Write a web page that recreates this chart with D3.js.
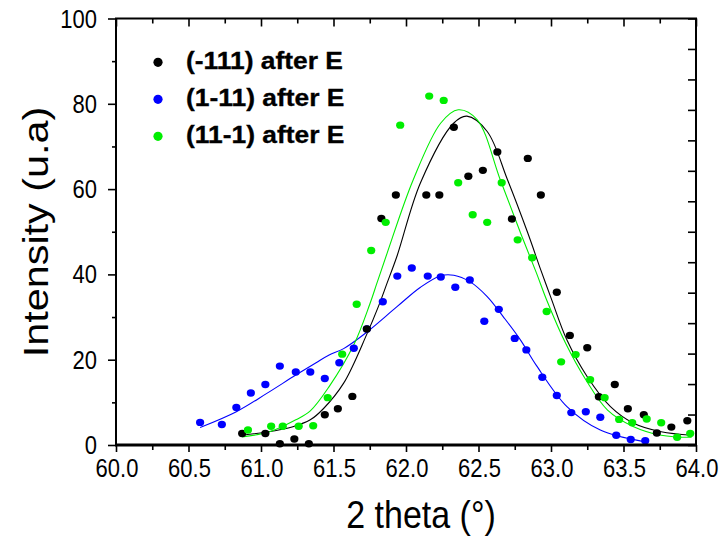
<!DOCTYPE html>
<html><head><meta charset="utf-8">
<script src="https://cdn.jsdelivr.net/npm/d3@7"></script>
<style>body{margin:0;background:#fff}svg{display:block}</style>
</head><body>
<svg id="c" width="726" height="536"></svg>
<script>
// ---- data ----
const seriesNames = ["(-111) after E", "(1-11) after E", "(11-1) after E"];
const seriesColors = ["#000000", "#0000ff", "#00ee00"];

const blackX = [60.87,61.03,61.13,61.23,61.33,61.44,61.53,61.63,61.73,61.83,61.93,62.14,62.23,62.33,62.43,62.53,62.63,62.73,62.84,62.93,63.04,63.13,63.25,63.33,63.44,63.53,63.64,63.73,63.83,63.94];
const blackY = [2.7,2.7,0.3,1.4,0.3,7.1,8.5,11.4,27.2,53.1,58.6,58.6,58.6,74.5,63.0,64.4,68.7,53.0,67.2,58.6,35.8,25.7,22.8,11.3,14.2,8.5,7.1,2.8,4.2,5.7];

const blueX = [60.58,60.73,60.83,60.93,61.03,61.13,61.24,61.34,61.44,61.54,61.64,61.73,61.84,61.94,62.04,62.15,62.24,62.34,62.44,62.54,62.64,62.75,62.83,62.94,63.04,63.14,63.24,63.34,63.45,63.55,63.65];
const blueY = [5.3,4.8,8.8,12.2,14.2,18.5,17.1,17.1,15.6,19.3,22.7,27.2,33.6,39.6,41.5,39.6,39.4,37.0,38.7,29.0,31.8,25.0,22.3,15.9,11.6,7.6,7.8,6.5,2.3,1.3,1.0];

const greenX = [60.91,61.07,61.15,61.26,61.36,61.46,61.56,61.66,61.76,61.86,61.96,62.16,62.26,62.36,62.46,62.56,62.66,62.77,62.87,62.97,63.07,63.17,63.27,63.37,63.47,63.56,63.66,63.76,63.87,63.96];
const greenY = [3.5,4.4,4.4,4.4,4.5,11.1,21.3,33.0,45.6,52.2,75.0,81.8,80.8,61.5,54.0,52.2,61.5,48.1,43.9,31.3,19.5,21.2,15.3,11.1,6.0,5.2,6.1,5.2,1.8,2.7];

// fitted curves
const blackFitX = [60.87,61.03,61.22,61.34,61.43,61.57,61.73,61.81,61.87,61.94,62.10,62.33,62.42,62.56,62.70,62.84,62.93,63.00,63.11,63.25,63.41,63.57,63.76,63.97];
const blackFitY = [2.3,3.0,4.3,5.9,8.5,14.5,26.0,32.5,38.0,44.5,61.5,75.5,77.1,73.5,62.2,49.7,41.0,34.5,24.6,16.0,9.0,5.1,3.1,2.3];
const blueFitX = [60.58,60.83,61.04,61.24,61.38,61.47,61.57,61.72,61.94,62.10,62.24,62.33,62.44,62.56,62.67,62.79,62.90,63.11,63.34,63.64];
const blueFitY = [4.1,7.8,12.1,16.4,19.3,21.1,22.6,26.2,32.5,37.0,39.7,39.8,38.3,34.8,30.1,24.6,18.6,9.0,3.5,0.8];
const greenFitX = [60.87,61.06,61.24,61.34,61.47,61.64,61.75,61.80,61.87,62.05,62.24,62.36,62.49,62.65,62.79,62.90,62.97,63.10,63.24,63.39,63.57,63.76,63.97];
const greenFitY = [1.9,3.1,5.9,8.0,13.7,23.5,33.0,38.0,45.0,62.2,75.5,78.6,76.3,62.2,49.7,40.3,34.0,23.9,15.3,8.2,4.3,2.3,1.8];

const xMajorTicks = [60.0,60.5,61.0,61.5,62.0,62.5,63.0,63.5,64.0];
const xMinorTicks = [60.25,60.75,61.25,61.75,62.25,62.75,63.25,63.75];
const yMajorTicks = [0,20,40,60,80,100];
const yMinorTicks = [10,30,50,70,90];
const rightTickCount = 14;

const xTitle = "2 theta (°)";
const yTitle = "Intensity (u.a)";

// ---- layout ----
const L = 116, R = 696, T = 18.5, B = 445;
const VS = 1.15; // vertical text stretch
const FONT = "'Liberation Sans', Arial, Helvetica, sans-serif";

const svg = d3.select("#c");
const x = d3.scaleLinear().domain([60,64]).range([L,R]);
const y = d3.scaleLinear().domain([0,100]).range([B,T]);
const yR = d3.scaleLinear().domain([0,rightTickCount]).range([B,T]);

const series = [
  {X: blueX, Y: blueY, fx: blueFitX, fy: blueFitY, c: seriesColors[1]},
  {X: blackX, Y: blackY, fx: blackFitX, fy: blackFitY, c: seriesColors[0]},
  {X: greenX, Y: greenY, fx: greenFitX, fy: greenFitY, c: seriesColors[2]},
];

const line = d3.line().x(d => x(d[0])).y(d => y(d[1])).curve(d3.curveCatmullRom.alpha(0.5));

series.forEach(s => {
  svg.append("path")
    .attr("d", line(s.fx.map((v,i) => [v, s.fy[i]])))
    .attr("fill","none").attr("stroke", s.c).attr("stroke-width", 1.1);
});
series.forEach(s => {
  svg.append("g").selectAll("ellipse").data(s.X.map((v,i)=>[v,s.Y[i]])).join("ellipse")
    .attr("cx", d => x(d[0])).attr("cy", d => y(d[1]))
    .attr("rx", 4.1).attr("ry", 3.7).attr("fill", s.c);
});

// ---- axes ----
function styleAxis(g, w){
  g.select(".domain").remove();
  g.selectAll(".tick line").attr("stroke","#000").attr("stroke-width", w||1.6);
}
svg.append("g").attr("transform",`translate(0,${B})`)
  .call(d3.axisBottom(x).tickValues(xMinorTicks).tickSize(5).tickFormat(""))
  .call(styleAxis);
svg.append("g").attr("transform",`translate(0,${T})`)
  .call(d3.axisBottom(x).tickValues(xMinorTicks).tickSize(5).tickFormat(""))
  .call(styleAxis);
svg.append("g").attr("transform",`translate(${L},0)`)
  .call(d3.axisLeft(y).tickValues(yMinorTicks).tickSize(4).tickFormat(""))
  .call(styleAxis);
svg.append("g").attr("transform",`translate(0,${T})`)
  .call(d3.axisBottom(x).tickValues(xMajorTicks).tickSize(8).tickFormat(""))
  .call(styleAxis);
svg.append("g").attr("transform",`translate(${R},0)`)
  .call(d3.axisLeft(yR).ticks(rightTickCount).tickSize(8).tickFormat(""))
  .call(styleAxis);
const gx = svg.append("g").attr("transform",`translate(0,${B})`)
  .call(d3.axisBottom(x).tickValues(xMajorTicks).tickSize(7).tickPadding(0).tickFormat(d3.format(".1f")))
  .call(styleAxis);
gx.selectAll(".tick text").attr("y",null).attr("dy",null)
  .attr("transform",`translate(0.5,32) scale(1,${VS})`)
  .attr("font-family",FONT).attr("font-size",22).attr("fill","#000").attr("text-anchor","middle");
const gy = svg.append("g").attr("transform",`translate(${L},0)`)
  .call(d3.axisLeft(y).tickValues(yMajorTicks).tickSize(8).tickFormat(d3.format("d")))
  .call(styleAxis);
gy.selectAll(".tick text").attr("x",null).attr("dy",null)
  .attr("transform",`translate(-19,8.5) scale(1,${VS})`)
  .attr("font-family",FONT).attr("font-size",22).attr("fill","#000").attr("text-anchor","end");

// frame
svg.append("rect").attr("x",L).attr("y",T).attr("width",R-L).attr("height",B-T)
  .attr("fill","none").attr("stroke","#000").attr("stroke-width",2);
svg.append("line").attr("x1",L-1).attr("x2",R+1).attr("y1",B).attr("y2",B)
  .attr("stroke","#000").attr("stroke-width",3);

// titles
svg.append("text").text(xTitle)
  .attr("transform",`translate(${(L+R)/2+15},528) scale(1,${VS})`)
  .attr("text-anchor","middle").attr("font-family",FONT).attr("font-size",34).attr("fill","#000");
svg.append("text").text(yTitle)
  .attr("transform",`translate(48,232) scale(1,${VS}) rotate(-90)`)
  .attr("text-anchor","middle").attr("font-family",FONT).attr("font-size",36).attr("fill","#000");

// legend
const lg = svg.append("g");
seriesNames.forEach((n,i) => {
  const cy = 62.3 + i*37;
  lg.append("circle").attr("cx",158).attr("cy",cy).attr("r",4.6).attr("fill",seriesColors[i]);
  lg.append("text").text(n).attr("transform",`translate(186,${cy+7}) scale(1.2,1.05)`)
    .attr("font-family",FONT).attr("font-weight","bold").attr("font-size",22)
    .attr("stroke","#000").attr("stroke-width",0.3)
    .attr("fill","#000");
});
</script>
</body></html>
